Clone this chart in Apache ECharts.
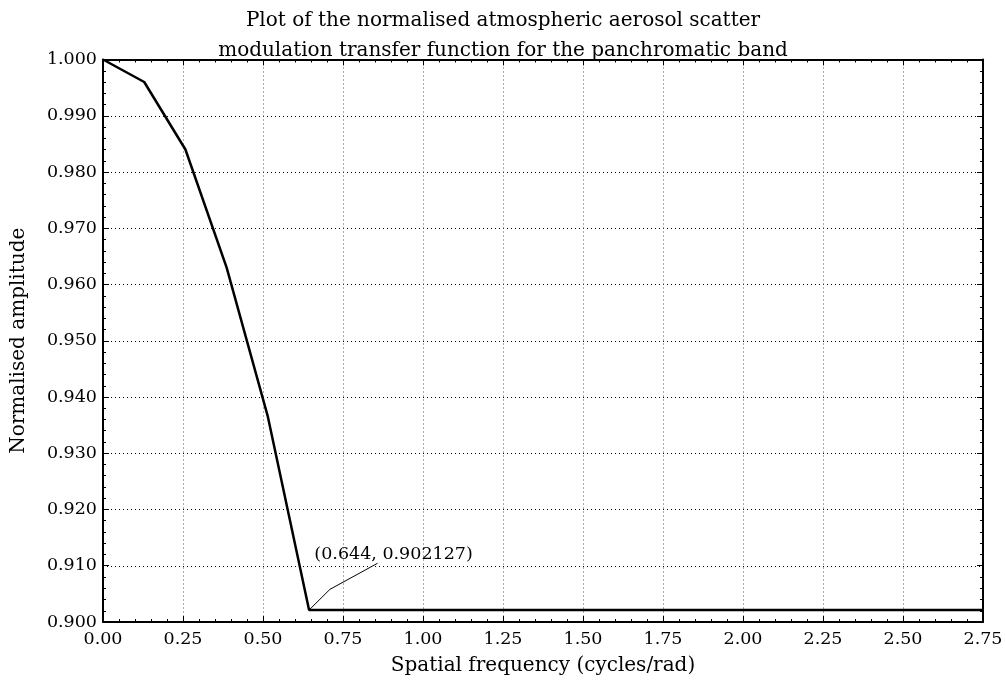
<!DOCTYPE html>
<html>
<head>
<meta charset="utf-8">
<script src="https://cdn.jsdelivr.net/npm/echarts@6/dist/echarts.min.js"></script>
<style>
html,body{margin:0;padding:0;background:#fff;}
#chart{width:1006px;height:682px;}
</style>
</head>
<body>
<div id="chart"></div>
<script>
// Data
var frequency = [0, 0.1288, 0.2576, 0.3864, 0.5152, 0.644, 2.75];
var amplitude = [1.000, 0.996, 0.984, 0.963, 0.9365, 0.902127, 0.902127];
var annotationX = [0.644, 0.709, 0.858];
var annotationY = [0.902127, 0.9058, 0.91044];
var annotationText = '(0.644, 0.902127)';
var titleLines = ['Plot of the normalised atmospheric aerosol scatter', 'modulation transfer function for the panchromatic band'];
var xName = 'Spatial frequency (cycles/rad)';
var yName = 'Normalised amplitude';

var FONT = 'DejaVu Serif';
var chart = echarts.init(document.getElementById('chart'), null, {renderer: 'canvas'});

function pairs(xs, ys) { return xs.map(function (x, i) { return [x, ys[i]]; }); }

var axisCommon = {
  type: 'value',
  axisLine: {show: true, onZero: false, lineStyle: {color: '#000', width: 2}},
  axisTick: {show: true, inside: true, length: 6, lineStyle: {color: '#000', width: 1}},
  minorTick: {show: true, splitNumber: 5, length: 3, lineStyle: {color: '#000', width: 1}}
};

var option = {
  animation: false,
  backgroundColor: '#fff',
  title: {
    text: titleLines.join('\n'),
    left: 'center',
    top: 1,
    textStyle: {fontFamily: FONT, fontSize: 20, fontWeight: 'normal', color: '#000', lineHeight: 30}
  },
  grid: {left: 103, right: 23, top: 59.5, bottom: 60, containLabel: false},
  xAxis: [
    Object.assign({}, axisCommon, {
      position: 'bottom', min: 0, max: 2.75, interval: 0.25,
      name: xName, nameLocation: 'middle', nameGap: 34,
      nameTextStyle: {fontFamily: FONT, fontSize: 20, color: '#000'},
      axisLabel: {fontFamily: FONT, fontSize: 17.5, color: '#000', margin: 8,
        formatter: function (v) { return v.toFixed(2); }},
      splitLine: {show: true, lineStyle: {color: '#555', type: [1, 3], width: 1}}
    }),
    Object.assign({}, axisCommon, {
      position: 'top', min: 0, max: 2.75, interval: 0.25,
      axisLabel: {show: false}, splitLine: {show: false}
    })
  ],
  yAxis: [
    Object.assign({}, axisCommon, {
      position: 'left', min: 0.9, max: 1.0, interval: 0.01,
      name: yName, nameLocation: 'middle', nameGap: 74,
      nameTextStyle: {fontFamily: FONT, fontSize: 20, color: '#000'},
      axisLabel: {fontFamily: FONT, fontSize: 17.5, color: '#000', margin: 6,
        formatter: function (v) { return v.toFixed(3); }},
      splitLine: {show: true, lineStyle: {color: '#000', type: [1, 3], width: 1}}
    }),
    Object.assign({}, axisCommon, {
      position: 'right', min: 0.9, max: 1.0, interval: 0.01,
      axisLabel: {show: false}, splitLine: {show: false}
    })
  ],
  series: [
    {
      type: 'line',
      data: pairs(frequency, amplitude),
      showSymbol: false,
      symbol: 'none',
      lineStyle: {color: '#000', width: 2.5},
      z: 5
    },
    {
      type: 'line',
      data: pairs(annotationX, annotationY),
      symbol: 'none',
      lineStyle: {color: '#000', width: 1},
      z: 6,
      markPoint: {
        symbol: 'circle',
        symbolSize: 0,
        data: [{coord: [annotationX[2], annotationY[2]], value: annotationText}],
        label: {
          show: true,
          position: 'top',
          distance: 0,
          offset: [16, 0],
          formatter: annotationText,
          fontFamily: FONT, fontSize: 17.5, color: '#000'
        }
      }
    }
  ]
};
chart.setOption(option);
</script>
</body>
</html>
